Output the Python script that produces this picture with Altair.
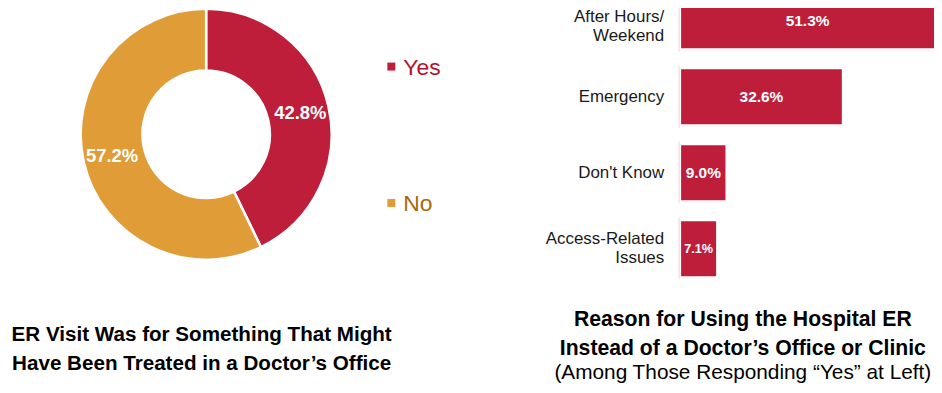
import altair as alt
import pandas as pd

# ---- data ----
donut_cats = ["Yes", "No"]
donut_vals = [42.8, 57.2]

reasons = ["After Hours/\nWeekend", "Emergency", "Don't Know", "Access-Related\nIssues"]
reason_vals = [51.3, 32.6, 9.0, 7.1]

left_title = "ER Visit Was for Something That Might\nHave Been Treated in a Doctor\u2019s Office"
right_title = "Reason for Using the Hospital ER\nInstead of a Doctor\u2019s Office or Clinic"
right_subtitle = "(Among Those Responding \u201cYes\u201d at Left)"

RED = "#BE1E3A"
ORANGE = "#E09C36"
BOLD = "Liberation Sans, Arial, sans-serif"
REG = "Liberation Sans, Arial, sans-serif"

donut_df = pd.DataFrame({
    "cat": donut_cats,
    "value": donut_vals,
    "idx": list(range(len(donut_cats))),
    "label": [f"{v:.1f}%" for v in donut_vals],
})
bar_df = pd.DataFrame({
    "reason": reasons,
    "value": reason_vals,
    "label": [f"{v:.1f}%" for v in reason_vals],
    "nlines": [r.count("\n") for r in reasons],
    "row": list(range(len(reasons))),
})

CX, CY = 199, 126

# ---- donut ----
arc = alt.Chart(donut_df).mark_arc(
    innerRadius=64, outerRadius=126, stroke="white", strokeWidth=2.5
).encode(
    theta=alt.Theta("value:Q", stack=True),
    color=alt.Color("cat:N", scale=alt.Scale(domain=donut_cats, range=[RED, ORANGE]), legend=None),
    order=alt.Order("idx:Q"),
    x=alt.value(CX), y=alt.value(CY),
)
arc_text = alt.Chart(donut_df).mark_text(
    radius=97, font=BOLD, fontWeight="bold", fontSize=18.5, color="white",
    align="center", baseline="middle"
).encode(
    theta=alt.Theta("value:Q", stack=True),
    order=alt.Order("idx:Q"),
    text="label:N",
    x=alt.value(CX), y=alt.value(CY),
)

# ---- manual legend ----
leg_y = alt.Y("cat:N", scale=alt.Scale(type="point", domain=donut_cats, range=[58, 195], padding=0), axis=None)
leg_sym = alt.Chart(donut_df).mark_square(size=64, opacity=1).encode(
    x=alt.value(385), y=leg_y,
    color=alt.Color("cat:N", scale=alt.Scale(domain=donut_cats, range=[RED, ORANGE]), legend=None),
)
leg_txt = alt.Chart(donut_df).mark_text(
    align="left", baseline="middle", font=REG, fontSize=23, dy=1
).encode(
    x=alt.value(397), y=leg_y, text="cat:N",
    color=alt.Color("cat:N", scale=alt.Scale(domain=donut_cats, range=["#B5122C", "#A86B0C"]), legend=None),
)

# ---- bars ----
bar_y = alt.Y("reason:N", sort=reasons,
              scale=alt.Scale(type="band", domain=reasons, range=[-15.5, 268.5],
                              paddingInner=0.276, paddingOuter=0),
              axis=None)
bar_x_scale = alt.Scale(domain=[0, 51.3], range=[676, 930])

bars = alt.Chart(bar_df).mark_bar(color=RED).encode(
    x=alt.X("value:Q", scale=bar_x_scale, axis=None),
    y=bar_y,
)
ticks = alt.Chart(bar_df).mark_tick(orient="vertical", color="#F0BCC6", thickness=1, size=62, xOffset=-2).encode(
    x=alt.X("zero:Q", scale=bar_x_scale, axis=None),
    y=bar_y,
).transform_calculate(zero="0")
bar_text = alt.Chart(bar_df).transform_calculate(mid="datum.value / 2").mark_text(
    font=BOLD, fontWeight="bold", color="white", align="center", baseline="middle"
).encode(
    x=alt.X("mid:Q", scale=bar_x_scale, axis=None),
    y=bar_y,
    text="label:N",
    size=alt.condition("datum.value < 8", alt.value(12.7), alt.value(15.5)),
)
cat_single = alt.Chart(bar_df).transform_filter("datum.nlines == 0").mark_text(
    align="right", baseline="middle", font=REG, fontSize=17, color="#1a1a1a"
).encode(
    x=alt.value(659), y=bar_y, text="reason:N",
)
cat_top = alt.Chart(bar_df).transform_filter("datum.nlines == 1 && datum.row == 0").mark_text(
    align="right", baseline="middle", font=REG, fontSize=17, lineBreak="\n", lineHeight=19,
    dy=-4, color="#1a1a1a"
).encode(
    x=alt.value(659), y=bar_y, text="reason:N",
)
cat_double = alt.Chart(bar_df).transform_filter("datum.nlines == 1 && datum.row > 0").mark_text(
    align="right", baseline="middle", font=REG, fontSize=17, lineBreak="\n", lineHeight=19,
    dy=-9.5, color="#1a1a1a"
).encode(
    x=alt.value(659), y=bar_y, text="reason:N",
)

# ---- titles ----
lt = alt.Chart(pd.DataFrame({"t": [left_title]})).mark_text(
    align="center", baseline="alphabetic", font=BOLD, fontWeight="bold", fontSize=20.7,
    lineBreak="\n", lineHeight=29, color="black"
).encode(x=alt.value(194.5), y=alt.value(334), text="t:N")
rt = alt.Chart(pd.DataFrame({"t": [right_title]})).mark_text(
    align="center", baseline="alphabetic", font=BOLD, fontWeight="bold", fontSize=21.3,
    lineBreak="\n", lineHeight=28.5, color="black"
).encode(x=alt.value(738), y=alt.value(319), text="t:N")
rs = alt.Chart(pd.DataFrame({"t": [right_subtitle]})).mark_text(
    align="center", baseline="alphabetic", font=REG, fontWeight="normal", fontSize=20.9, color="black"
).encode(x=alt.value(738), y=alt.value(372), text="t:N")

chart = alt.layer(
    arc, arc_text, leg_sym, leg_txt, ticks, bars, bar_text,
    cat_single, cat_top, cat_double, lt, rt, rs
).resolve_scale(
    x="independent", y="independent", color="independent"
).properties(
    width=930, height=377, padding=0, autosize=alt.AutoSizeParams(type="none")
).configure_view(stroke=None)

chart.save("out.html", embed_options={"renderer": "svg", "actions": False})
